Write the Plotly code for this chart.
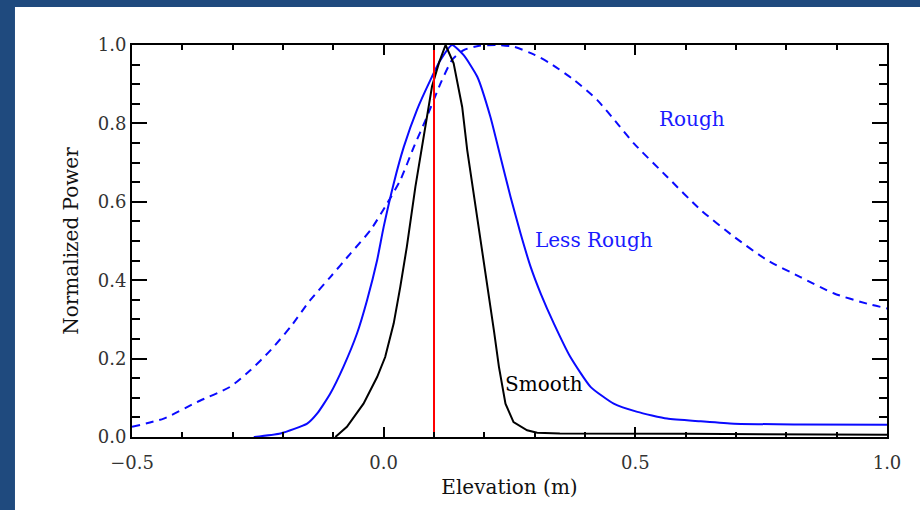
import plotly.graph_objects as go

# ---- data ----
smooth_x = [-0.096, -0.073, -0.040, -0.013, 0.003, 0.020, 0.033, 0.046, 0.063, 0.080, 0.096, 0.110, 0.123,
            0.139, 0.156, 0.166, 0.179, 0.192, 0.206, 0.219, 0.229, 0.242, 0.258, 0.285, 0.305, 0.35, 0.6, 0.85, 1.0]
smooth_y = [0.0, 0.026, 0.085, 0.153, 0.204, 0.29, 0.383, 0.485, 0.638, 0.775, 0.894, 0.955, 1.0,
            0.953, 0.842, 0.732, 0.621, 0.502, 0.383, 0.272, 0.179, 0.085, 0.038, 0.017, 0.011, 0.009, 0.008, 0.006, 0.006]

less_x = [-0.258, -0.205, -0.152, -0.132, -0.106, -0.080, -0.053, -0.033, -0.013, 0.0, 0.020, 0.040, 0.066,
          0.093, 0.113, 0.136, 0.159, 0.186, 0.212, 0.232, 0.252, 0.272, 0.292, 0.312, 0.338, 0.371, 0.411,
          0.457, 0.504, 0.563, 0.630, 0.696, 0.828, 1.0]
less_y = [0.0, 0.009, 0.034, 0.06, 0.111, 0.179, 0.264, 0.349, 0.451, 0.536, 0.647, 0.740, 0.834,
          0.911, 0.962, 1.0, 0.974, 0.919, 0.817, 0.715, 0.613, 0.519, 0.434, 0.366, 0.29, 0.204, 0.128,
          0.085, 0.064, 0.047, 0.04, 0.034, 0.032, 0.031]

rough_x = [-0.5, -0.437, -0.371, -0.305, -0.265, -0.225, -0.185, -0.146, -0.106, -0.066, -0.026, 0.007,
           0.033, 0.060, 0.086, 0.113, 0.136, 0.159, 0.190, 0.225, 0.260, 0.300, 0.331, 0.378, 0.424, 0.464,
           0.497, 0.563, 0.630, 0.696, 0.762, 0.828, 0.895, 0.961, 1.0]
rough_y = [0.026, 0.047, 0.089, 0.128, 0.170, 0.221, 0.281, 0.349, 0.408, 0.468, 0.528, 0.596,
           0.655, 0.740, 0.817, 0.902, 0.962, 0.987, 0.998, 1.0, 0.995, 0.975, 0.953, 0.911, 0.86, 0.80,
           0.749, 0.664, 0.579, 0.511, 0.451, 0.408, 0.366, 0.34, 0.328]

marker_x = 0.1

labels = ["Rough", "Less Rough", "Smooth"]
label_x = [0.613, 0.417, 0.319]
label_y = [0.811, 0.502, 0.135]
label_colors = ["#1a1aff", "#1a1aff", "#000000"]

x_tickvals = [-0.5, 0.0, 0.5, 1.0]
y_tickvals = [0.0, 0.2, 0.4, 0.6, 0.8, 1.0]

FONT = "DejaVu Serif"
BLUE = "#0a0aff"

fig = go.Figure()
fig.add_trace(go.Scatter(x=rough_x, y=rough_y, mode="lines",
                         line=dict(color=BLUE, width=2, dash="8px,6px", shape="spline", smoothing=0.6)))
fig.add_trace(go.Scatter(x=less_x, y=less_y, mode="lines",
                         line=dict(color=BLUE, width=2, shape="spline", smoothing=0.5)))
fig.add_trace(go.Scatter(x=smooth_x, y=smooth_y, mode="lines",
                         line=dict(color="black", width=2)))
fig.add_trace(go.Scatter(x=[marker_x, marker_x], y=[0, 1], mode="lines",
                         line=dict(color="#ff0000", width=2)))

for t, lx, ly, c in zip(labels, label_x, label_y, label_colors):
    fig.add_annotation(x=lx, y=ly, text=t, showarrow=False,
                       font=dict(family=FONT, size=20, color=c))

# dark blue frame on left and top
fig.add_shape(type="rect", xref="paper", yref="paper", x0=-0.2, x1=-0.155, y0=-0.3, y1=1.2,
              fillcolor="#1f4a7e", line_width=0, layer="below")
fig.add_shape(type="rect", xref="paper", yref="paper", x0=-0.2, x1=1.1, y0=1.097, y1=1.2,
              fillcolor="#1f4a7e", line_width=0, layer="below")

fig.update_layout(
    width=920, height=510,
    margin=dict(l=132, r=33, t=45, b=73),
    paper_bgcolor="white", plot_bgcolor="white",
    showlegend=False,
    font=dict(family=FONT, size=18, color="#222"),
)
fig.update_xaxes(
    range=[-0.5, 1.0], tickvals=x_tickvals, ticktext=["\u22120.5", "0.0", "0.5", "1.0"],
    ticks="inside", ticklen=10, tickwidth=1.5, tickcolor="black",
    minor=dict(dtick=0.1, tick0=0, ticks="inside", ticklen=5, tickwidth=1.5, tickcolor="black"),
    showline=True, linecolor="black", linewidth=2, mirror="ticks",
    showgrid=False, zeroline=False,
    ticklabelstandoff=8,
    tickfont=dict(family=FONT, size=18, color="#333"),
    title=dict(text="Elevation (m)", font=dict(family=FONT, size=20, color="#111"), standoff=8),
)
fig.update_yaxes(
    range=[0, 1.0], tickvals=y_tickvals, tickformat=".1f",
    ticks="inside", ticklen=15, tickwidth=1.5, tickcolor="black",
    minor=dict(dtick=0.05, tick0=0, ticks="inside", ticklen=8, tickwidth=1.5, tickcolor="black"),
    showline=True, linecolor="black", linewidth=2, mirror="ticks",
    showgrid=False, zeroline=False,
    tickfont=dict(family=FONT, size=18, color="#333"),
    title=dict(text="Normalized Power", font=dict(family=FONT, size=20, color="#111"), standoff=14),
)

fig.write_html("out.html", config={"displayModeBar": False},
               post_script="document.body.style.margin='0';")
